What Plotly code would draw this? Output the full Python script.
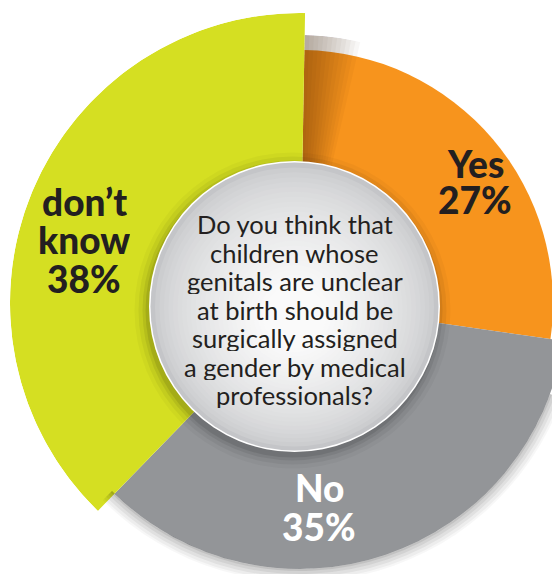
import math
import plotly.graph_objects as go

# poll data
categories = ["Yes", "No", "don’t know"]
percent = [27, 35, 38]
pct_labels = ["27%", "35%", "38%"]
question_lines = [
    "Do you think that",
    "children whose",
    "genitals are unclear",
    "at birth should be",
    "surgically assigned",
    "a gender by medical",
    "professionals?",
]

# styling, in page pixels (the page body adds an 8px margin)
W, H = 560, 574
OFF = 8
cx, cy = 300 - OFF, 303 - OFF      # pie centre in figure pixels
slice_r = [253, 266, 290]          # each slice sticks out differently
colors = ["#f7941d", "#939598", "#d5df22"]
text_colors = ["#231f20", "#ffffff", "#231f20"]
label_pos = [(475, 163), (319, 487), (84, 202)]
label_step = [36, 39, 38.5]

# angles from the percentages
widths = [p * 3.6 for p in percent]
starts = [sum(widths[:i]) for i in range(len(widths))]
mids = [s + w / 2 for s, w in zip(starts, widths)]


def px(x, y):
    return (x - OFF) / W, 1 - (y - OFF) / H


def sector_bbox(s):
    a0 = s[0] % 360
    a1 = a0 + (s[1] - s[0])

    def has(c):
        return a0 <= c <= a1 or a0 <= c + 360 <= a1

    xs = [math.cos(math.radians(a)) for a in (a0, a1)]
    ys = [math.sin(math.radians(a)) for a in (a0, a1)]
    return [-1 if has(180) else min(0, *xs), -1 if has(270) else min(0, *ys),
            1 if has(0) else max(0, *xs), 1 if has(90) else max(0, *ys)]


def domain(R, bbox):
    x0, y0, x1, y1 = bbox
    return dict(x=[max(0, (cx + x0 * R) / W), min(1, (cx + x1 * R) / W)],
                y=[max(0, 1 - (cy - y0 * R) / H), min(1, 1 - (cy - y1 * R) / H)])


fig = go.Figure()

# orange + grey on a full polar subplot
R1 = 268
fig.add_trace(go.Barpolar(
    r=slice_r[:2], theta=mids[:2], width=widths[:2],
    marker=dict(color=colors[:2], line=dict(width=0)),
    text=categories[:2], hoverinfo="text", showlegend=False))
# shadow the yellow slice throws onto the orange one
for w in range(1, 13):
    fig.add_trace(go.Barpolar(
        r=[R1], theta=[w / 2], width=[w],
        marker=dict(color="rgba(70,30,0,0.035)", line=dict(width=0)),
        hoverinfo="skip", showlegend=False))

# the larger yellow slice on a sector subplot so it can reach past the frame
R2 = 290
sector2 = [85, 230]
fig.add_trace(go.Barpolar(
    r=[slice_r[2]], theta=[mids[2]], width=[widths[2]], subplot="polar2",
    marker=dict(color=colors[2], line=dict(width=0)),
    text=[categories[2]], hoverinfo="text", showlegend=False))

# drop shadow outside the grey slice (lower right)
R3 = 279
sector3 = [-135, -20]
for k, a in [(14, 0.03), (11, 0.04), (8, 0.05), (5, 0.06), (2, 0.08)]:
    fig.add_trace(go.Barpolar(
        r=[k], base=[slice_r[1]], theta=[mids[1]], width=[widths[1] + 4], subplot="polar3",
        marker=dict(color=f"rgba(0,0,0,{a})", line=dict(width=0)),
        hoverinfo="skip", showlegend=False))

axis_common = dict(
    bgcolor="rgba(0,0,0,0)", bargap=0, barmode="overlay",
    angularaxis=dict(rotation=89, direction="clockwise", visible=False),
)
fig.update_layout(
    width=W, height=H,
    margin=dict(l=0, r=0, t=0, b=0),
    paper_bgcolor="white",
    polar=dict(domain=domain(R1, [-1, -1, 1, 1]),
               radialaxis=dict(range=[0, R1], visible=False), **axis_common),
    polar2=dict(domain=domain(R2, sector_bbox(sector2)), sector=sector2,
                radialaxis=dict(range=[0, R2], visible=False), **axis_common),
    polar3=dict(domain=domain(R3, sector_bbox(sector3)), sector=sector3,
                radialaxis=dict(range=[0, R3], visible=False), **axis_common),
)

# centre disc: shadow rings, then a stacked radial shading
ccx, ccy, cr = 294.5, 306.5, 144


def circ(x, y, r, color):
    xa, ya = px(x - r, y + r)
    xb, yb = px(x + r, y - r)
    fig.add_shape(type="circle", xref="paper", yref="paper",
                  x0=xa, x1=xb, y0=ya, y1=yb,
                  fillcolor=color, line=dict(width=0), layer="above")


for k, a in [(14, 0.03), (10, 0.05), (6, 0.07), (3, 0.09)]:
    circ(ccx - 2, ccy + 4, cr + k, f"rgba(0,0,0,{a})")
circ(ccx, ccy, cr + 1.5, "white")
n = 26
for i in range(n):
    t = i / (n - 1)
    r = cr * (1 - 0.78 * t)
    c0, c1 = (196, 197, 200), (250, 250, 250)
    f = t ** 0.6
    col = tuple(round(a + (b - a) * f) for a, b in zip(c0, c1))
    circ(ccx, ccy + 10 * t, r, f"rgb{col}")

# question text
for i, line in enumerate(question_lines):
    x, y = px(ccx, 223.5 + i * 28.5)
    fig.add_annotation(x=x, y=y, xref="paper", yref="paper",
                       text=line, showarrow=False, xanchor="center", yanchor="middle",
                       height=27, valign="middle",
                       font=dict(family="Lato", size=25.5, color="#231f20"))

# slice labels (tight leading like the original, so each box is kept short)
for i, cat in enumerate(categories):
    lines = cat.split(" ") + [pct_labels[i]]
    x0, y0 = label_pos[i]
    for j, line in enumerate(lines):
        x, y = px(x0, y0 + j * label_step[i])
        fig.add_annotation(x=x, y=y, xref="paper", yref="paper", text=line, showarrow=False,
                           xanchor="center", yanchor="middle",
                           height=label_step[i] - 3, valign="middle",
                           font=dict(family="Lato", size=37, color=text_colors[i], weight=900))

fig.write_html("out.html")
